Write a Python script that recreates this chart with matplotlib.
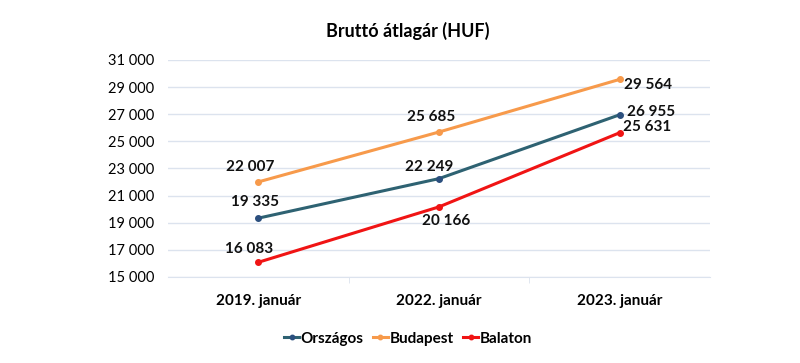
import matplotlib.pyplot as plt
from matplotlib.ticker import FuncFormatter

plt.rcParams['font.family'] = ['Lato', 'DejaVu Sans']

categories = ["2019. január", "2022. január", "2023. január"]
orszagos = [19335, 22249, 26955]
budapest = [22007, 25685, 29564]
balaton = [16083, 20166, 25631]
y_ticks = list(range(15000, 31001, 2000))


def huf(value, _pos=None):
    return f"{int(value):,}".replace(",", " ")


fig = plt.figure(figsize=(8, 3.63), dpi=100)
ax = fig.add_axes([0.21, 0.237, 0.6775, 0.598])

x = list(range(len(categories)))
series = [
    ("Országos", orszagos, "#2E6272", "#2B4F7E"),
    ("Budapest", budapest, "#F79A4B", "#F79A4B"),
    ("Balaton", balaton, "#F01414", "#F01414"),
]
for name, values, color, mcolor in series:
    ax.plot(x, values, color=color, linewidth=2.2, marker="o", markersize=4,
            markerfacecolor=mcolor, markeredgecolor=mcolor, label=name, zorder=3)

# label offsets in pixels (dx, dy up, ha)
offsets = {
    "Országos": [(-3, 16, "center"), (-10, 12, "center"), (7, 3, "left")],
    "Budapest": [(-8, 15, "center"), (-8, 15, "center"), (4, -6, "left")],
    "Balaton": [(-9, 13, "center"), (7, -14, "center"), (3, 6, "left")],
}
px = 72 / 100
for name, values, color, _ in series:
    for i, v in enumerate(values):
        dx, dy, ha = offsets[name][i]
        ax.annotate(huf(v), (i, v), xytext=(dx * px, dy * px), textcoords="offset points",
                    ha=ha, va="center", fontsize=11, fontweight="bold", color="#111111")

ax.set_xlim(-0.5, len(categories) - 0.5)
ax.set_ylim(15000, 31000)
ax.set_yticks(y_ticks)
ax.yaxis.set_major_formatter(FuncFormatter(huf))
ax.set_xticks(x)
ax.set_xticklabels(categories, fontsize=11, fontweight="bold")
ax.set_xticks([0.5, 1.5], minor=True)
ax.tick_params(axis="x", which="major", length=0, pad=12)
ax.tick_params(axis="x", which="minor", length=4, color="#DCE3EE")
ax.tick_params(axis="y", length=0, labelsize=10.5, pad=10)
ax.grid(axis="y", color="#DCE3EE", linewidth=1)
ax.set_axisbelow(True)
for side in ["top", "right", "left"]:
    ax.spines[side].set_visible(False)
ax.spines["bottom"].set_color("#DCE3EE")

fig.suptitle("Bruttó átlagár (HUF)", x=0.51, y=0.94, fontsize=13, fontweight="bold")
fig.legend(loc="lower center", bbox_to_anchor=(0.51, 0.01), ncol=3, frameon=False,
           prop={"size": 11, "weight": "bold"}, handlelength=1.0, handletextpad=0.1,
           columnspacing=0.6, markerscale=0.8)

fig.savefig("out.png", dpi=100)
